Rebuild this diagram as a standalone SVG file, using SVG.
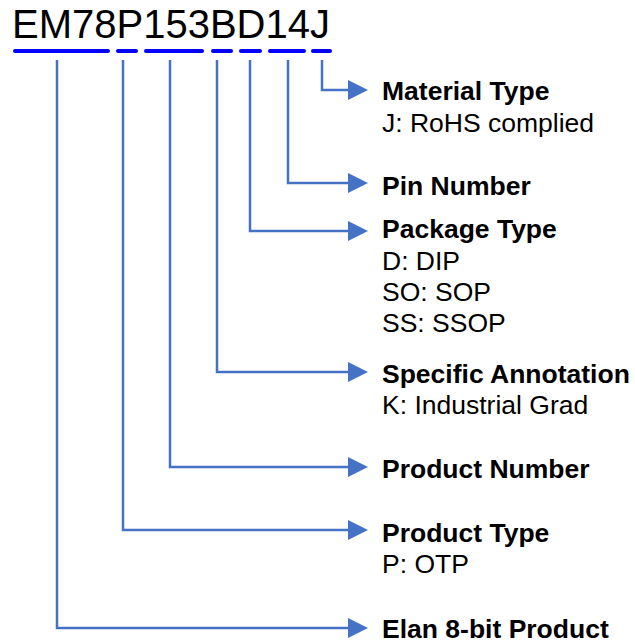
<svg xmlns="http://www.w3.org/2000/svg" width="635" height="643" viewBox="0 0 635 643">
<style>
.title{font-family:"Liberation Sans",Arial,sans-serif;font-size:40px;fill:#000}
.ul{stroke:#0000ff;stroke-width:4;stroke-linecap:round;fill:none}
.con{stroke:#4472c4;stroke-width:2.5;fill:none}
.lbl{font-family:"Liberation Sans",Arial,sans-serif;font-size:26.5px;font-weight:bold;fill:#000}
.sub{font-family:"Liberation Sans",Arial,sans-serif;font-size:26.5px;fill:#000}
</style>
<defs>
<marker id="ah" markerUnits="userSpaceOnUse" markerWidth="20" markerHeight="20" refX="4" refY="10" orient="auto">
<path d="M0,0 L20,10 L0,20 z" fill="#4472c4"/>
</marker>
</defs>
<rect width="635" height="643" fill="#fff"/>
<g id="part-number">
<text class="title" x="12" y="38">EM78P153BD14J</text>
<line class="ul" x1="15" y1="51" x2="108" y2="51"/>
<line class="ul" x1="118" y1="51" x2="136" y2="51"/>
<line class="ul" x1="146" y1="51" x2="202" y2="51"/>
<line class="ul" x1="213" y1="51" x2="231" y2="51"/>
<line class="ul" x1="241" y1="51" x2="260" y2="51"/>
<line class="ul" x1="270" y1="51" x2="304" y2="51"/>
<line class="ul" x1="313" y1="51" x2="330" y2="51"/>
</g>
<g id="connectors">
<polyline class="con" points="322,60 322,90 352,90" marker-end="url(#ah)"/>
<polyline class="con" points="288,60 288,183 352,183" marker-end="url(#ah)"/>
<polyline class="con" points="250,60 250,231 352,231" marker-end="url(#ah)"/>
<polyline class="con" points="217,60 217,372 352,372" marker-end="url(#ah)"/>
<polyline class="con" points="170,60 170,467 352,467" marker-end="url(#ah)"/>
<polyline class="con" points="123,60 123,530 352,530" marker-end="url(#ah)"/>
<polyline class="con" points="57,60 57,628 352,628" marker-end="url(#ah)"/>
</g>
<g id="material-type">
<text class="lbl" x="382" y="100">Material Type</text>
<text class="sub" x="382" y="132">J: RoHS complied</text>
</g>
<g id="pin-number">
<text class="lbl" x="382" y="195">Pin Number</text>
</g>
<g id="package-type">
<text class="lbl" x="382" y="238">Package Type</text>
<text class="sub" x="382" y="270">D: DIP</text>
<text class="sub" x="382" y="301">SO: SOP</text>
<text class="sub" x="382" y="332">SS: SSOP</text>
</g>
<g id="specific-annotation">
<text class="lbl" x="382" y="383">Specific Annotation</text>
<text class="sub" x="382" y="414">K: Industrial Grad</text>
</g>
<g id="product-number">
<text class="lbl" x="382" y="478">Product Number</text>
</g>
<g id="product-type">
<text class="lbl" x="382" y="542">Product Type</text>
<text class="sub" x="382" y="573">P: OTP</text>
</g>
<g id="elan-8bit">
<text class="lbl" x="382" y="638">Elan 8-bit Product</text>
</g>
</svg>
